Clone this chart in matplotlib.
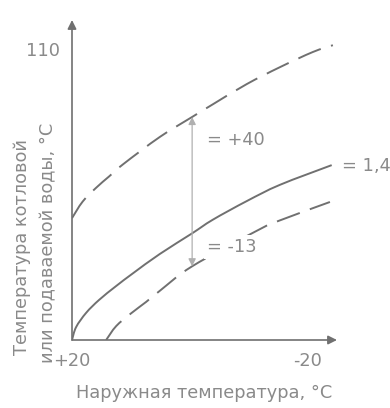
import matplotlib
matplotlib.use('Agg')
import matplotlib.pyplot as plt
from matplotlib.path import Path
from matplotlib.patches import PathPatch

plt.rcParams['font.family'] = ['DejaVu Sans']

# Outdoor temperature (deg C) and water temperature (deg C)
solid_x = [20, 19.3, 17.6, 15.4, 12.5, 9.6, 5.1, -0.4, -3.9, -9.7, -15.3, -24.1]
solid_y = [20, 24.0, 28.4, 32.4, 36.7, 40.7, 46.6, 53.0, 57.2, 63.0, 68.0, 74.1]

upper_x = [20, 18.2, 15.9, 13.7, 11.3, 5.1, -0.4, -3.9, -9.7, -15.3, -20.9, -24.3]
upper_y = [57.7, 62.8, 67.1, 70.6, 74.4, 82.8, 89.0, 92.9, 99.2, 104.4, 109.1, 111.2]

lower_x = [14.2, 12.5, 10.0, 7.4, 5.1, -0.4, -11.6, -15.3, -23.8]
lower_y = [20, 24.3, 28.2, 31.8, 35.2, 42.8, 54.0, 57.0, 62.7]

shift_x = -0.4
shift_from = 42.8
shift_to = 89.0

x_ticks = [20, -20]
x_ticklabels = ['+20', '-20']
y_ticks = [110]
y_ticklabels = ['110']

txt = '#8a8a8a'
line = '#707070'
fs = 12.8


def smooth_path(xs, ys):
    # Catmull-Rom through the read points, drawn as cubic Bezier segments
    pts = list(zip(xs, ys))
    verts = [pts[0]]
    codes = [Path.MOVETO]
    for i in range(len(pts) - 1):
        p0 = pts[i - 1] if i > 0 else pts[i]
        p1 = pts[i]
        p2 = pts[i + 1]
        p3 = pts[i + 2] if i + 2 < len(pts) else pts[i + 1]
        c1 = (p1[0] + (p2[0] - p0[0]) / 6, p1[1] + (p2[1] - p0[1]) / 6)
        c2 = (p2[0] - (p3[0] - p1[0]) / 6, p2[1] - (p3[1] - p1[1]) / 6)
        verts += [c1, c2, p2]
        codes += [Path.CURVE4] * 3
    return Path(verts, codes)


fig = plt.figure(figsize=(3.9, 4.08), dpi=100)
ax = fig.add_axes([72/390, 68/408, 265/390, 320/408])
ax.set_xlim(20, -25)
ax.set_ylim(20, 119)

for s in ax.spines.values():
    s.set_visible(False)

# axes with arrows
ax.annotate('', xy=(1, 0), xytext=(0, 0), xycoords='axes fraction',
            arrowprops=dict(arrowstyle='-|>', color=line, lw=1.2, mutation_scale=13,
                            shrinkA=0, shrinkB=0))
ax.annotate('', xy=(0, 1), xytext=(0, 0), xycoords='axes fraction',
            arrowprops=dict(arrowstyle='-|>', color=line, lw=1.2, mutation_scale=13,
                            shrinkA=0, shrinkB=0))

ax.add_patch(PathPatch(smooth_path(solid_x, solid_y), fill=False, edgecolor=line, lw=1.4))
ax.add_patch(PathPatch(smooth_path(upper_x, upper_y), fill=False, edgecolor=line, lw=1.4,
                       linestyle=(0, (12.5, 5.5))))
ax.add_patch(PathPatch(smooth_path(lower_x, lower_y), fill=False, edgecolor=line, lw=1.4,
                       linestyle=(0, (12.5, 5.5))))

# shift arrow
ax.annotate('', xy=(shift_x, shift_to), xytext=(shift_x, shift_from),
            arrowprops=dict(arrowstyle='<|-|>', color='#b0b0b0', lw=0.9, mutation_scale=11,
                            shrinkA=0, shrinkB=0))

ax.text(-2.9, 81.9, '= +40', color=txt, fontsize=fs, va='center', ha='left')
ax.text(-2.9, 48.8, '= -13', color=txt, fontsize=fs, va='center', ha='left', zorder=5,
        bbox=dict(facecolor='white', edgecolor='none', pad=2))
ax.text(-25.9, 73.8, '= 1,4', color=txt, fontsize=fs, va='center', ha='left', clip_on=False)

ax.set_xticks(x_ticks)
ax.set_xticklabels(x_ticklabels)
ax.set_yticks(y_ticks)
ax.set_yticklabels(y_ticklabels)
ax.tick_params(length=0, labelsize=fs, labelcolor=txt)
ax.tick_params(axis='x', pad=9)
ax.tick_params(axis='y', pad=9)

ax.set_xlabel('Наружная температура, °C', color=txt, fontsize=fs, labelpad=10)
fig.text(22/390, 1 - 247/408, 'Температура котловой', rotation=90, color=txt,
         fontsize=fs, ha='center', va='center')
fig.text(48/390, 1 - 243/408, 'или подаваемой воды, °C', rotation=90, color=txt,
         fontsize=fs, ha='center', va='center')

fig.savefig('out.png', dpi=100)
